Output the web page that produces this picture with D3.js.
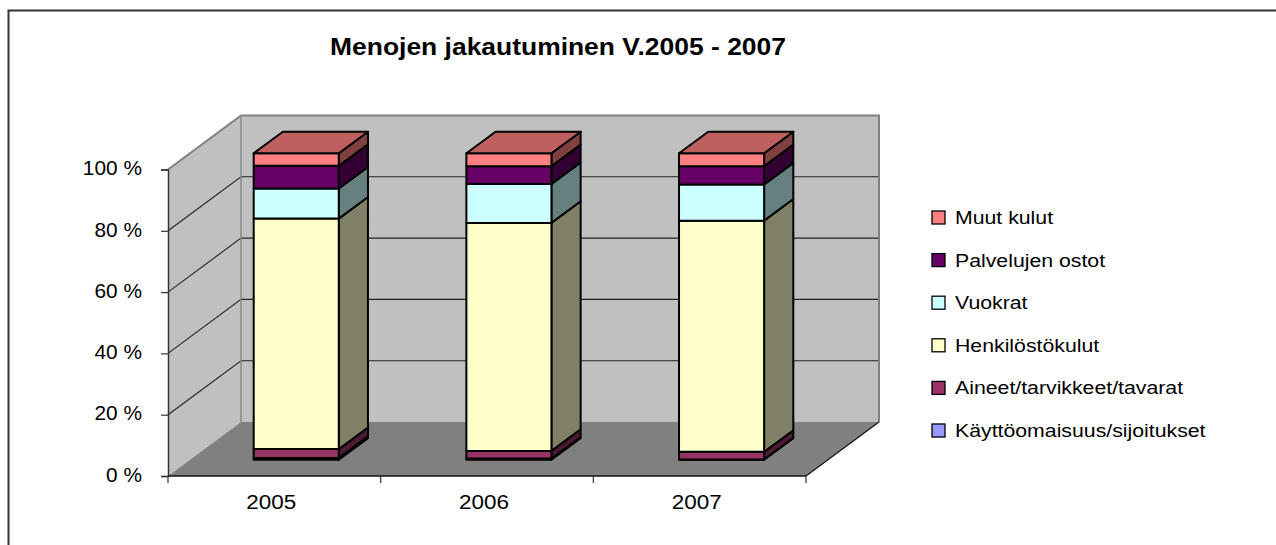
<!DOCTYPE html>
<html>
<head>
<meta charset="utf-8">
<script src="https://cdnjs.cloudflare.com/ajax/libs/d3/7.8.5/d3.min.js"></script>
<style>
  body { margin: 0; background: #fff; }
  text { font-family: "Liberation Sans", Arial, sans-serif; fill: #000; }
</style>
</head>
<body>
<svg id="chart" width="1276" height="545"></svg>
<script>
// values, in percent of each year's total
var years = ["2005", "2006", "2007"];
var seriesNames = ["Käyttöomaisuus/sijoitukset", "Aineet/tarvikkeet/tavarat", "Henkilöstökulut",
                   "Vuokrat", "Palvelujen ostot", "Muut kulut"];
var kayttoomaisuus = [0.6, 0.4, 0.1];
var aineet = [2.9, 2.5, 2.5];
var henkilosto = [75.2, 74.4, 75.5];
var vuokrat = [9.8, 12.7, 11.8];
var palvelut = [7.4, 5.8, 6.0];
var muut = [4.1, 4.2, 4.2];
var seriesColors = ["#9999FF", "#993366", "#FFFFCC", "#CCFFFF", "#660066", "#FF8080"];
var yTicks = [0, 0.2, 0.4, 0.6, 0.8, 1];

var allSeries = [kayttoomaisuus, aineet, henkilosto, vuokrat, palvelut, muut];
var rows = years.map(function(y, i) {
  var r = { year: y };
  seriesNames.forEach(function(s, j) { r[s] = allSeries[j][i]; });
  return r;
});

var svg = d3.select("#chart");

// outer frame (only top and left edge visible)
svg.append("path")
    .attr("d", "M8.5,545V10.5H1276")
    .attr("fill", "none")
    .attr("stroke", "#333")
    .attr("stroke-width", 2);

var x0 = 168, x1 = 806, yBase = 476, yTop = 169.5;
var depth = [73, -54]; // offset from front plane to back wall

var x = d3.scaleBand().domain(years).range([x0, x1]).paddingInner(0.6).paddingOuter(0.3);
var y = d3.scaleLinear().domain([0, 1]).range([yBase, yTop]);

function poly(pts) { return "M" + pts.map(function(p) { return p.join(","); }).join("L") + "Z"; }
function shade(c, k) {
  var r = d3.rgb(c);
  return d3.rgb(r.r * k, r.g * k, r.b * k).formatHex();
}

var dx = depth[0], dy = depth[1];

// side wall
svg.append("path")
    .attr("d", poly([[x0, y(1)], [x0 + dx, y(1) + dy], [x0 + dx, y(0) + dy], [x0, y(0)]]))
    .attr("fill", "#C0C0C0");
// back wall
svg.append("path")
    .attr("d", poly([[x0 + dx, y(1) + dy], [x1 + dx, y(1) + dy], [x1 + dx, y(0) + dy], [x0 + dx, y(0) + dy]]))
    .attr("fill", "#C0C0C0");
// floor
svg.append("path")
    .attr("d", poly([[x0, y(0)], [x0 + dx, y(0) + dy], [x1 + dx, y(0) + dy], [x1, y(0)]]))
    .attr("fill", "#808080");

// gridlines on back wall and side wall
var grid = svg.append("g").attr("stroke", "#222").attr("stroke-width", 1.1).attr("fill", "none");
yTicks.filter(function(t) { return t > 0 && t < 1; }).forEach(function(t) {
  grid.append("path").attr("d", "M" + x0 + "," + y(t) + "L" + (x0 + dx) + "," + (y(t) + dy) + "H" + (x1 + dx));
});

// wall edges
svg.append("path")
    .attr("d", "M" + x0 + "," + y(1) + "L" + (x0 + dx) + "," + (y(1) + dy) + "H" + (x1 + dx) + "V" + (y(0) + dy))
    .attr("fill", "none").attr("stroke", "#808080").attr("stroke-width", 2);
svg.append("path")
    .attr("d", "M" + (x0 + dx) + "," + (y(1) + dy) + "V" + (y(0) + dy))
    .attr("fill", "none").attr("stroke", "#8a8a8a").attr("stroke-width", 1.5);
svg.append("path")
    .attr("d", "M" + x1 + "," + y(0) + "L" + (x1 + dx) + "," + (y(0) + dy))
    .attr("fill", "none").attr("stroke", "#111").attr("stroke-width", 1.2);

// stacked bars
var stack = d3.stack().keys(seriesNames).offset(d3.stackOffsetExpand);
var layers = stack(rows);
var fx = 0.3 * dx, fy = 0.3 * dy;   // bar front sits at 30% depth
var bx = 0.4 * dx, by = 0.4 * dy;   // bar depth is 40% of the floor
var w = x.bandwidth();

years.forEach(function(yr, i) {
  var g = svg.append("g").attr("stroke", "#000").attr("stroke-width", 2).attr("stroke-linejoin", "round");
  var bl = x(yr) + fx;
  layers.forEach(function(layer, j) {
    var d = layer[i];
    var yt = y(d[1]) + fy, yb = y(d[0]) + fy;
    var col = seriesColors[j];
    g.append("path")
        .attr("d", poly([[bl + w, yb], [bl + w, yt], [bl + w + bx, yt + by], [bl + w + bx, yb + by]]))
        .attr("fill", shade(col, 0.5));
    g.append("rect")
        .attr("x", bl).attr("y", yt).attr("width", w).attr("height", yb - yt)
        .attr("fill", col);
    if (j === layers.length - 1) {
      g.append("path")
          .attr("d", poly([[bl, yt], [bl + w, yt], [bl + w + bx, yt + by], [bl + bx, yt + by]]))
          .attr("fill", shade(col, 0.75));
    }
  });
});

// y axis
var yAxis = svg.append("g")
    .attr("transform", "translate(" + x0 + ",0)")
    .call(d3.axisLeft(y).tickValues(yTicks).tickSize(7).tickFormat(function(d) { return Math.round(d * 100) + " %"; }));
yAxis.select(".domain").attr("stroke", "#333").attr("stroke-width", 1.5);
yAxis.selectAll(".tick line").attr("stroke", "#333").attr("stroke-width", 1.2);
yAxis.selectAll(".tick text")
    .attr("x", -24.3).attr("dy", "0.27em")
    .attr("transform", "scale(1.07,1)")
    .style("font-size", "19.5px").style("font-family", "'Liberation Sans', Arial, sans-serif");

// x axis: line on the floor edge, ticks on category borders
svg.append("path")
    .attr("d", "M" + x0 + "," + yBase + "H" + x1)
    .attr("stroke", "#111").attr("stroke-width", 1.5);
var step = x.step();
d3.range(years.length + 1).forEach(function(k) {
  var tx = x0 + k * step;
  svg.append("path").attr("d", "M" + tx + "," + yBase + "V" + (yBase + 7))
      .attr("stroke", "#333").attr("stroke-width", 1.2);
});
svg.selectAll(".xlab").data(years).enter().append("text")
    .attr("class", "xlab")
    .attr("text-anchor", "middle")
    .attr("transform", function(d) { return "translate(" + (x(d) + w / 2 - 3) + ",509) scale(1.07,1)"; })
    .style("font-size", "21px")
    .text(function(d) { return d; });

// title
svg.append("text")
    .attr("text-anchor", "middle")
    .attr("transform", "translate(558,55) scale(1.15,1)")
    .style("font-size", "23px").style("font-weight", "bold")
    .text("Menojen jakautuminen V.2005 - 2007");

// legend, top entry is the top of the stack
var legend = svg.append("g").attr("transform", "translate(932,217.5)");
var legendOrder = seriesNames.slice().reverse();
var item = legend.selectAll("g").data(legendOrder).enter().append("g")
    .attr("transform", function(d, i) { return "translate(0," + (i * 42.6) + ")"; });
item.append("rect")
    .attr("x", 0).attr("y", -6.5).attr("width", 13).attr("height", 13)
    .attr("fill", function(d) { return seriesColors[seriesNames.indexOf(d)]; })
    .attr("stroke", "#000").attr("stroke-width", 1.3);
item.append("text")
    .attr("transform", "translate(23,6.5) scale(1.15,1)")
    .style("font-size", "18.5px")
    .text(function(d) { return d; });
</script>
</body>
</html>
